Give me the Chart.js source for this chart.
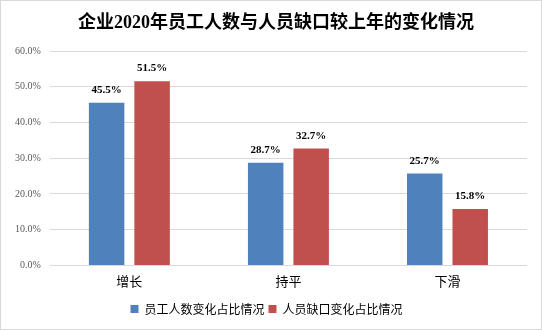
<!DOCTYPE html>
<html lang="zh-CN">

<head>
    <meta charset="UTF-8">
    <title>员工人数与人员缺口变化</title>
    <script src="https://cdn.jsdelivr.net/npm/chart.js"></script>
    <style>
        html, body { margin: 0; padding: 0; background: #fff; }
        #box { width: 542px; height: 330px; }
    </style>
</head>

<body>
    <div id="box">
        <canvas id="chartVariacao" width="542" height="330"></canvas>
    </div>
</body>

<script>
    // dados do gráfico
    var categorias = ['增长', '持平', '下滑'];
    var serieFuncionarios = [45.5, 28.7, 25.7];
    var serieLacuna = [51.5, 32.7, 15.8];
    var nomesSeries = ['员工人数变化占比情况', '人员缺口变化占比情况'];
    var tituloGrafico = '企业2020年员工人数与人员缺口较上年的变化情况';

    // fundo branco, moldura cinza e título
    var moldura = {
        id: 'moldura',
        beforeDraw(chart) {
            var c = chart.ctx;
            c.save();
            c.fillStyle = '#fff';
            c.fillRect(0, 0, chart.width, chart.height);
            c.strokeStyle = '#d9d9d9';
            c.lineWidth = 1;
            c.strokeRect(0.5, 0.5, chart.width - 1, chart.height - 1);
            c.font = 'bold 18px "Liberation Serif", "Noto Sans CJK SC", serif';
            c.fillStyle = '#000';
            c.textAlign = 'center';
            c.textBaseline = 'middle';
            c.fillText(tituloGrafico, 276, 23);
            c.restore();
        }
    };

    // rótulos de valor em cima das barras
    var rotulos = {
        id: 'rotulos',
        afterDatasetsDraw(chart) {
            var c = chart.ctx;
            c.save();
            c.font = 'bold 11px "Liberation Serif", "Times New Roman", serif';
            c.fillStyle = '#000';
            c.textAlign = 'center';
            c.textBaseline = 'alphabetic';
            chart.data.datasets.forEach(function (ds, i) {
                chart.getDatasetMeta(i).data.forEach(function (barra, j) {
                    c.fillText(ds.data[j].toFixed(1) + '%', barra.x, barra.y - 10);
                });
            });
            c.restore();
        }
    };

    var grafico = new Chart(document.getElementById('chartVariacao').getContext('2d'), {
        type: 'bar',
        data: {
            labels: categorias,
            datasets: [{
                label: nomesSeries[0],
                data: serieFuncionarios,
                backgroundColor: '#4f81bd',
                categoryPercentage: 0.572,
                barPercentage: 0.78
            },
            {
                label: nomesSeries[1],
                data: serieLacuna,
                backgroundColor: '#c0504d',
                categoryPercentage: 0.572,
                barPercentage: 0.78
            }]
        },
        options: {
            responsive: false,
            animation: false,
            layout: {
                padding: { left: 6, right: 15, top: 51, bottom: 5 }
            },
            scales: {
                x: {
                    grid: { display: false },
                    border: { display: false },
                    afterFit: function (eixo) { eixo.height += 10; },
                    ticks: {
                        color: '#000',
                        padding: 0,
                        font: { family: '"Noto Sans CJK SC", sans-serif', size: 13 }
                    }
                },
                y: {
                    min: 0,
                    max: 60,
                    ticks: {
                        stepSize: 10,
                        padding: 9,
                        color: '#595959',
                        font: { family: '"Liberation Serif", "Times New Roman", serif', size: 10 },
                        callback: function (v) { return v.toFixed(1) + '%'; }
                    },
                    grid: { color: '#d9d9d9', drawTicks: false },
                    border: { display: false }
                }
            },
            plugins: {
                title: { display: false },
                legend: {
                    display: true,
                    position: 'bottom',
                    labels: {
                        boxWidth: 8,
                        boxHeight: 8,
                        padding: 4,
                        color: '#000',
                        font: { family: '"Noto Sans CJK SC", sans-serif', size: 12 }
                    }
                },
                tooltip: { enabled: false }
            }
        },
        plugins: [moldura, rotulos]
    });
</script>

</html>
